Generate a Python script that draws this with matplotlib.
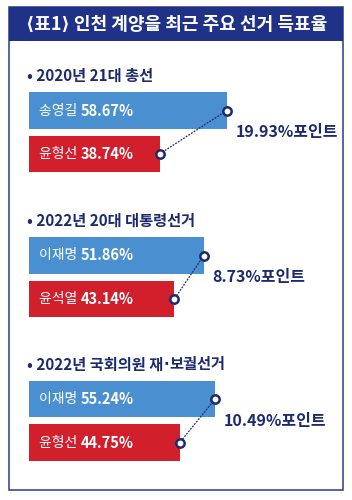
import matplotlib.pyplot as plt
from matplotlib.patches import Rectangle

plt.rcParams['font.family'] = ['Noto Sans CJK KR', 'DejaVu Sans']

title = '⟨표1⟩ 인천 계양을 최근 주요 선거 득표율'
sections = ['2020년 21대 총선', '2022년 20대 대통령선거', '2022년 국회의원 재·보궐선거']
winners = ['송영길', '이재명', '이재명']
winner_pct = [58.67, 51.86, 55.24]
losers = ['윤형선', '윤석열', '윤형선']
loser_pct = [38.74, 43.14, 44.75]
gaps = ['19.93%포인트', '8.73%포인트', '10.49%포인트']

BLUE = '#4a8fd0'
RED = '#d21f2c'
NAVY = '#1f3288'
TEXT_NAVY = '#1c2a70'

W, H = 352, 500
fig = plt.figure(figsize=(W / 100, H / 100), dpi=100)
fig.patch.set_facecolor('white')

def fx(px):
    return px / W

def fy(py):
    return 1 - py / H

# outer frame and title band
fig.patches.append(Rectangle((fx(9), fy(490)), fx(334), 483 / H, transform=fig.transFigure,
                             fill=False, edgecolor='#3a4a8c', linewidth=1.2))
fig.patches.append(Rectangle((fx(9), fy(41)), fx(334), 34 / H, transform=fig.transFigure,
                             facecolor=NAVY, edgecolor='none'))
fig.text(fx(177), fy(24), title, color='white', fontsize=13, fontweight='bold',
         ha='center', va='center')

blue_centers = [110.5, 255.5, 399]
sp = 43.5
px_per_pct = 3.37
x0 = 29
x1 = 343

for i in range(3):
    cb = blue_centers[i]
    top = cb - 0.75 * sp
    bot = cb + 1.75 * sp
    ax = fig.add_axes([fx(x0), fy(bot), fx(x1 - x0), (bot - top) / H])
    ax.set_xlim(0, (x1 - x0) / px_per_pct)
    ax.set_ylim(1.75, -0.75)
    ax.axis('off')
    ax.barh([0], [winner_pct[i]], height=0.85, color=BLUE)
    ax.barh([1], [loser_pct[i]], height=0.85, color=RED)

    for y, name, val in [(0, winners[i], winner_pct[i]), (1, losers[i], loser_pct[i])]:
        t = ax.text(3.0, y, name + ' ', color='white', fontsize=10, va='center', ha='left')
        ax.annotate(f'{val:.2f}%', xy=(1, 0.5), xycoords=t, color='white', fontsize=10.5,
                    fontweight='bold', va='center', ha='left')

    ax.plot([winner_pct[i], loser_pct[i]], [0, 1], color=TEXT_NAVY, linestyle=(0, (1.5, 1)),
            linewidth=0.9, marker='o', markersize=6, markerfacecolor='white',
            markeredgecolor=TEXT_NAVY, markeredgewidth=1.8)
    ax.text(winner_pct[i] + 2.6, 0.5, gaps[i], color=TEXT_NAVY, fontsize=11.5,
            fontweight='bold', va='center', ha='left')

    # header; the middle dot comes from DejaVu Sans so it stays narrow
    parts = ('• ' + sections[i]).split('·')
    prev = fig.text(fx(27), fy(top - 2), parts[0], color=TEXT_NAVY, fontsize=11,
                    fontweight='bold', ha='left', va='center')
    for part in parts[1:]:
        dot = plt.annotate('·', xy=(1, 0.5), xycoords=prev, color=TEXT_NAVY, fontsize=11,
                           fontweight='bold', family=['DejaVu Sans'], va='center', ha='left',
                           annotation_clip=False)
        prev = plt.annotate(part, xy=(1, 0.5), xycoords=dot, color=TEXT_NAVY, fontsize=11,
                            fontweight='bold', va='center', ha='left', annotation_clip=False)

fig.savefig('out.png', dpi=100)
